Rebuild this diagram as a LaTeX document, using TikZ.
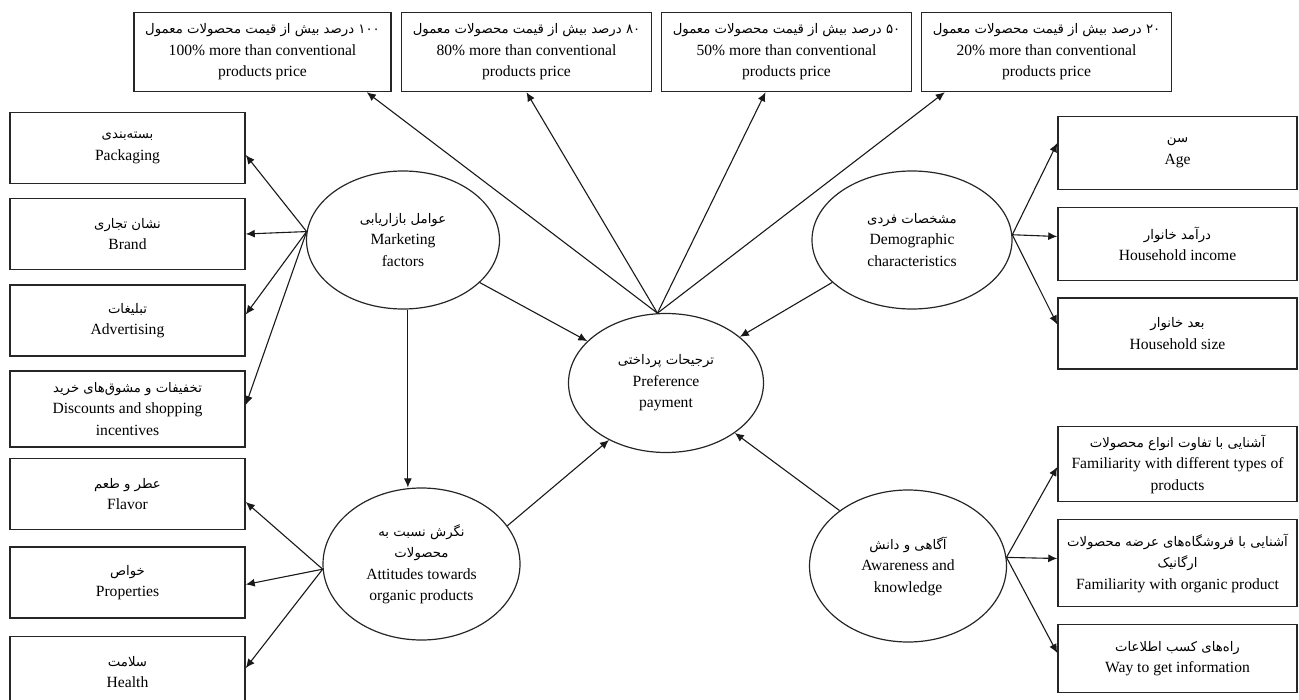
\documentclass[tikz,border=0pt]{standalone}
\usepackage{fontspec}
\setmainfont{Liberation Serif}
\newfontfamily\farsifont[Script=Arabic,Scale=0.85]{DejaVu Sans}
\TeXXeTstate=1
\newcommand{\fatext}[1]{{\farsifont\beginR #1\endR}}
\usetikzlibrary{arrows.meta,positioning,calc,shapes.geometric}

\begin{document}
\begin{tikzpicture}[
        x=0.5pt, y=-0.5pt,
        font=\fontsize{7.8}{10.75}\selectfont,
        >=Latex,
        block/.style={draw=black!85, line width=0.75pt, minimum width=117.5pt, minimum height=35.5pt, inner sep=2pt, align=center},
        rblock/.style={block, minimum width=119.5pt},
        topblock/.style={block, minimum width=125pt, minimum height=39.5pt},
        factor/.style={draw=black!85, ellipse, line width=0.6pt, inner sep=0pt, align=center},
        line/.style={-{Latex[length=4.5pt,width=4pt]}, line width=0.55pt, black!90},
    ]
        \useasboundingbox (0,0) rectangle (1299,700);

        % --- central node and the four groups ---
        \node[factor, minimum width=97.5pt, minimum height=69.5pt] (pref) at (666,383) {\fatext{ترجیحات پرداختی}\\Preference\\payment};
        \node[factor, minimum width=96.5pt, minimum height=69pt] (mkt) at (403,240) {\fatext{عوامل بازاریابی}\\Marketing\\factors};
        \node[factor, minimum width=100pt, minimum height=69pt] (dem) at (912,240) {\fatext{مشخصات فردی}\\Demographic\\characteristics};
        \node[factor, minimum width=98.5pt, minimum height=76pt] (att) at (421.5,564) {\fatext{نگرش نسبت به}\\\fatext{محصولات}\\Attitudes towards\\organic products};
        \node[factor, minimum width=98.5pt, minimum height=76pt] (aw) at (908,566) {\fatext{آگاهی و دانش}\\Awareness and\\knowledge};

        % --- price levels on top ---
        \node[topblock, minimum width=128.5pt] (p100) at (262.5,52) {\fatext{۱۰۰ درصد بیش از قیمت محصولات معمول}\\100\% more than conventional\\products price};
        \node[topblock, right=4.5pt of p100] (p80) {\fatext{۸۰ درصد بیش از قیمت محصولات معمول}\\80\% more than conventional\\products price};
        \node[topblock, right=4.25pt of p80] (p50) {\fatext{۵۰ درصد بیش از قیمت محصولات معمول}\\50\% more than conventional\\products price};
        \node[topblock, right=4.25pt of p50] (p20) {\fatext{۲۰ درصد بیش از قیمت محصولات معمول}\\20\% more than conventional\\products price};

        % --- left column ---
        \node[block] (pack) at (127.5,148) {\fatext{بسته‌بندی}\\Packaging};
        \node[block, below=6.75pt of pack] (brand) {\fatext{نشان تجاری}\\Brand};
        \node[block, below=7pt of brand] (adv) {\fatext{تبلیغات}\\Advertising};
        \node[block, below=6.75pt of adv, minimum height=38pt] (disc) {\fatext{تخفیفات و مشوق‌های خرید}\\Discounts and shopping\\incentives};
        \node[block] (flav) at (127.5,494) {\fatext{عطر و طعم}\\Flavor};
        \node[block, below=8pt of flav] (prop) {\fatext{خواص}\\Properties};
        \node[block, below=8.5pt of prop] (health) {\fatext{سلامت}\\Health};

        % --- right column ---
        \node[rblock, minimum height=36.5pt] (age) at (1177.5,153) {\fatext{سن}\\Age};
        \node[rblock, minimum height=36.5pt, below=8.25pt of age] (inc) {\fatext{درآمد خانوار}\\Household income};
        \node[rblock, below=8pt of inc] (hsize) {\fatext{بعد خانوار}\\Household size};
        \node[rblock, minimum height=37.5pt] (types) at (1177.5,464) {\fatext{آشنایی با تفاوت انواع محصولات}\\Familiarity with different types of\\products};
        \node[rblock, minimum height=43.5pt, below=8.25pt of types] (org) {\fatext{آشنایی با فروشگاه‌های عرضه محصولات}\\\fatext{ارگانیک}\\Familiarity with organic product};
        \node[rblock, minimum height=34pt, below=8.25pt of org] (info) {\fatext{راه‌های کسب اطلاعات}\\Way to get information};

        % wiring: pref -> price levels
        \draw[line] (pref.97) -- ($(p100.south east)+(-25,0)$);
        \draw[line] (pref.97) -- (p80.south);
        \draw[line] (pref.97) -- ($(p50.south)+(-21,0)$);
        \draw[line] (pref.97) -- ($(p20.south west)+(24,0)$);

        % marketing factors -> items
        \draw[line] (mkt.175) -- ($(pack.east)+(0,7)$);
        \draw[line] (mkt.175) -- (brand.east);
        \draw[line] (mkt.175) -- ($(adv.east)+(0,-6)$);
        \draw[line] (mkt.175) -- ($(disc.east)+(0,-4)$);

        % attitudes -> items
        \draw[line] (att.183) -- ($(flav.east)+(0,8)$);
        \draw[line] (att.183) -- ($(prop.east)+(0,2)$);
        \draw[line] (att.183) -- ($(health.east)+(0,-4)$);

        % demographic -> items
        \draw[line] (dem.3) -- ($(age.west)+(0,-10)$);
        \draw[line] (dem.3) -- ($(inc.west)+(0,-7.5)$);
        \draw[line] (dem.3) -- ($(hsize.west)+(0,-9)$);

        % awareness -> items
        \draw[line] (aw.5) -- ($(types.west)+(0,3)$);
        \draw[line] (aw.5) -- ($(org.west)+(0,-4.5)$);
        \draw[line] (aw.5) -- ($(info.west)+(0,-5.5)$);

        % groups -> pref, marketing -> attitudes
        \draw[line] (mkt.-29) -- (pref.152);
        \draw[line] (dem.208) -- (pref.32);
        \draw[line] (att.24) -- (pref.225);
        \draw[line] (aw.141) -- (pref.-36);
        \draw[line] (mkt.-86) -- (mkt.-86 |- att.north);

\end{tikzpicture}
\end{document}
